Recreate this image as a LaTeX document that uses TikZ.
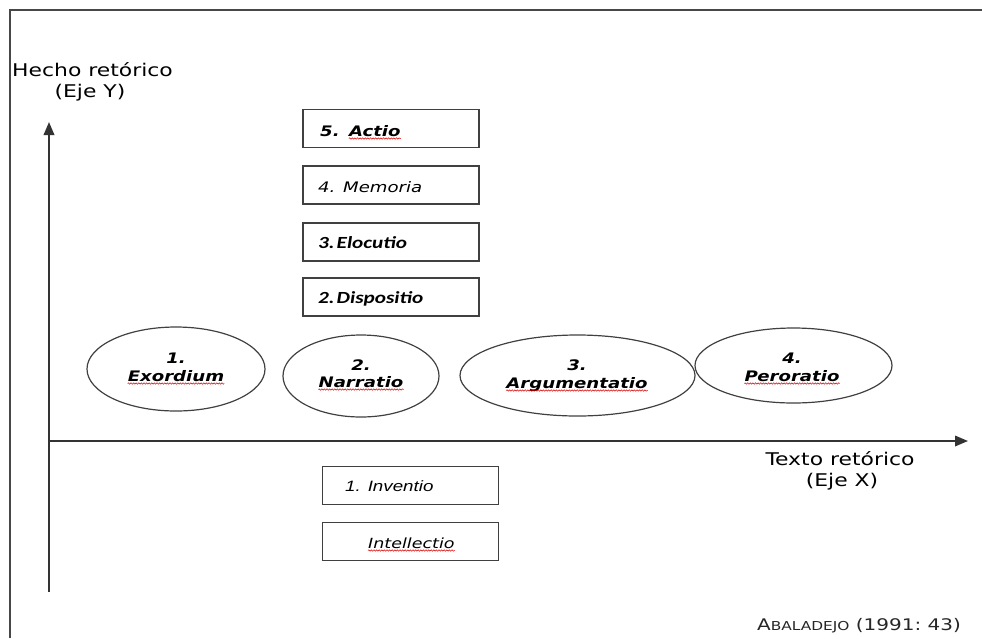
\documentclass[tikz,border=0pt]{standalone}
\usepackage{fontspec}
\setmainfont[FakeStretch=1.25]{DejaVu Sans}
\newfontfamily\verd[FakeStretch=1.25]{DejaVu Sans}
\newfontfamily\cali[FakeStretch=1.25]{Carlito}
\newfontfamily\ari[FakeStretch=1.25]{Liberation Sans}
\usetikzlibrary{arrows.meta,shapes.geometric,decorations.pathmorphing}
\tikzset{
  frame/.style={draw=black!72, line width=1.7pt},
  axis/.style={draw=black!80, line width=1.8pt, -{Triangle[length=13pt,width=10.5pt]}},
  stepbox/.style={draw=black!75, line width=1.4pt, minimum width=176pt, minimum height=38pt, inner sep=0pt},
  oval/.style={draw=black!75, line width=1.2pt, ellipse, inner sep=0pt},
  lbl/.style={inner sep=0pt, anchor=base west},
  clbl/.style={inner sep=0pt, anchor=base},
  squig/.style={draw=red!85!black, line width=0.5pt, decorate, decoration={snake, amplitude=0.7pt, segment length=2.6pt}},
  axfont/.style={font=\verd\fontsize{17.5}{20}\selectfont},
  elfont/.style={font=\verd\bfseries\itshape\fontsize{14.5}{17}\selectfont},
}
\begin{document}
\begin{tikzpicture}[x=1pt,y=-1pt]
\useasboundingbox (0,0) rectangle (982,638);
% frame
\coordinate (fb) at (10,638);
\coordinate (fc) at (10,10);
\coordinate (fr) at (982,10);
\draw[frame] (fb) -- (fc) -- (fr);
% axes
\coordinate (yo) at (49,592);
\coordinate (yt) at (49,122);
\coordinate (xo) at (49,441);
\coordinate (xt) at (968,441);
\draw[axis] (yo) -- (yt);
\draw[axis] (xo) -- (xt);
% axis labels
\node[lbl, axfont] (hy1) at (12,76) {Hecho retórico};
\node[clbl, axfont] (hy2) at (90,97) {(Eje Y)};
\node[clbl, axfont] (hx1) at (840,465) {Texto retórico};
\node[clbl, axfont] (hx2) at (842,486) {(Eje X)};
% citation
\node[lbl, font=\verd\fontsize{16}{18}\selectfont, text=black!85] (cit) at (757,630) {A{\fontsize{12.3}{14}\selectfont BALADEJO} (1991:~43)};
% boxes above
\node[stepbox] (b5) at (391,128.5) {};
\node[stepbox] (b4) at (391,185) {};
\node[stepbox] (b3) at (391,242) {};
\node[stepbox] (b2) at (391,297) {};
\node[stepbox] (b1) at (410.5,485.5) {};
\node[stepbox] (b0) at (410.5,541.5) {};
% box texts
\node[lbl, font=\verd\bfseries\itshape\fontsize{14.5}{17}\selectfont] (t5a) at (320,136) {5.};
\node[lbl, font=\verd\bfseries\itshape\fontsize{14.5}{17}\selectfont] (t5) at ([xshift=9pt]t5a.base east) {Actio};
\node[lbl, font=\verd\itshape\fontsize{14.5}{17}\selectfont] (t4) at (318,192) {4. Memoria};
\node[lbl, font=\cali\bfseries\itshape\fontsize{17}{19}\selectfont] (t3) at (318,248) {3.\hspace{2pt}Elocutio};
\node[lbl, font=\cali\bfseries\itshape\fontsize{17}{19}\selectfont] (t2) at (318,303) {2.\hspace{2pt}Dispositio};
\node[lbl, font=\ari\itshape\fontsize{15}{17}\selectfont] (t1) at (345,491) {1. Inventio};
\node[lbl, font=\verd\itshape\fontsize{14}{16}\selectfont] (t0) at (368,548) {Intellectio};
% ellipses
\node[oval, minimum width=178pt, minimum height=84pt] (e1) at (176,369) {};
\node[oval, minimum width=156pt, minimum height=82pt] (e2) at (361,376) {};
\node[oval, minimum width=235pt, minimum height=81pt] (e3) at (577.5,375.5) {};
\node[oval, minimum width=197pt, minimum height=75pt] (e4) at (793.5,365.5) {};
% ellipse texts
\node[clbl, elfont] (n1) at (176,363) {1.};
\node[clbl, elfont] (w1) at (176,381) {Exordium};
\node[clbl, elfont] (n2) at (361,370) {2.};
\node[clbl, elfont] (w2) at (361,387) {Narratio};
\node[clbl, elfont] (n3) at (577,370) {3.};
\node[clbl, elfont] (w3) at (577,388) {Argumentatio};
\node[clbl, elfont] (n4) at (792,363) {4.};
\node[clbl, elfont] (w4) at (792,381) {Peroratio};
% spelling squiggles
\foreach \w in {t5,t0,w1,w2,w3,w4}{
  \draw[squig] ([yshift=-2.5pt]\w.base west) -- ([yshift=-2.5pt]\w.base east);
}
\end{tikzpicture}
\end{document}
